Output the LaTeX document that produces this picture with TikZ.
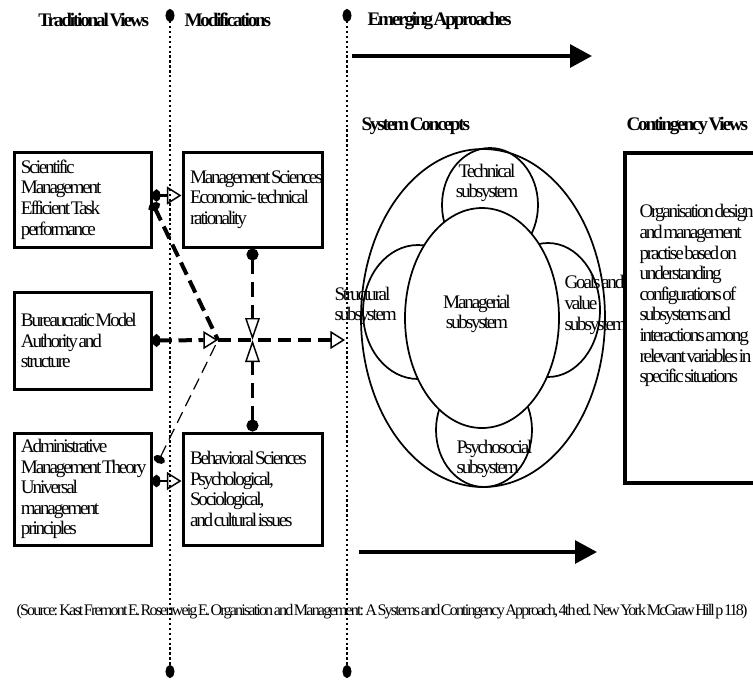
\documentclass[tikz,border=0pt]{standalone}
\usepackage{fontspec}
\setmainfont{Liberation Serif}[LetterSpace=-11.5,WordSpace={0.25,0,0}]
\usetikzlibrary{arrows.meta}
\hyphenpenalty=10000
\exhyphenpenalty=10000

\newcommand\txtfont{\fontsize{14.4}{15.45}\selectfont}
\newcommand\hdfont{\fontsize{14.4}{15.45}\selectfont\bfseries}
\newcommand\srcfont{\fontsize{12.1}{13}\selectfont}

\tikzset{every picture/.style={line width=0.75pt}}
\tikzset{
  dot/.tip={Ellipse[length=6pt,width=9pt]},
  vdot/.tip={Ellipse[length=9pt,width=9pt]},
  otri/.tip={Triangle[open,length=11pt,width=13.5pt,line width=1.1pt]},
  vtri/.tip={Triangle[open,length=16.5pt,width=11pt,line width=1.1pt]},
  box/.style={draw,line width=2.25pt,inner xsep=5.25pt,inner ysep=0pt,align=left,font=\txtfont,
    execute at begin node={\spaceskip=0pt\xspaceskip=0pt}},
  lbox/.style={box,minimum width=102.75pt,text width=92.25pt},
  mbox/.style={box,minimum width=104.25pt,text width=93.75pt},
  hd/.style={anchor=west,inner sep=0.75pt,font=\hdfont},
  lbl/.style={inner sep=0.75pt,font=\txtfont},
  sepline/.style={line width=1.6pt,dash pattern=on 1.7pt off 2pt,
    {Ellipse[length=9.75pt,width=6.75pt]}-{Ellipse[length=9.75pt,width=6.75pt]}},
  thickdash/.style={line width=3pt,dash pattern=on 10pt off 5pt},
  vdash/.style={line width=1.8pt,dash pattern=on 11pt off 6pt},
  thindash/.style={line width=0.9pt,dash pattern=on 9pt off 5pt},
  flow/.style={line width=3pt,-{Triangle[length=16.5pt,width=17pt]}},
  ring/.style={line width=1.3pt}
}

\begin{document}
\begin{tikzpicture}[x=0.75pt,y=0.75pt,yscale=-1,xscale=1]
\useasboundingbox (0,0) rectangle (753,679);

% column separators
\draw[sepline] (170,9) -- (170,678);
\draw[sepline] (347,9) -- (347,678);

% headings
\node[hd] (trad) at (37,20) {Traditional Views};
\node[hd] (modif) at (183,20) {Modifications};
\node[hd] (emerg) at (366,21) {Emerging Approaches};
\node[hd] (syscon) at (360,126) {System Concepts};
\node[hd] (contv) at (625,126) {Contingency Views};

% emerging approaches arrows
\coordinate (topL) at (352,56);
\coordinate (topR) at (592,56);
\coordinate (botL) at (359,552);
\coordinate (botR) at (597,552);
\draw[flow] (topL) -- (topR);
\draw[flow] (botL) -- (botR);

% traditional views
\node[lbox,minimum height=71.25pt] (sci) at (82.5,199.5) {Scientific\\Management\\\mbox{Efficient Task}\\performance};
\node[lbox,minimum height=72.75pt] (bur) at (82.5,340.5) {\mbox{Bureaucratic Model}\\\mbox{Authority and}\\structure};
\node[lbox,minimum height=84pt] (adm) at (82.5,489) {Administrative\\\mbox{Management Theory}\\Universal\\management\\principles};

% modifications
\node[mbox,minimum height=71.25pt] (mgt) at (252.5,199.5) {\mbox{Management Sciences}\\\mbox{Economic- technical}\\rationality};
\node[mbox,minimum height=84pt] (beh) at (252.5,489) {\mbox{Behavioral Sciences}\\Psychological,\\Sociological,\\\mbox{and cultural issues}};

% junctions
\coordinate (hub) at (218,340);
\coordinate (vmid) at (mgt.south |- hub);
\coordinate (sysin) at (345,340);

% connectors (yshift is flipped by yscale=-1)
\draw[line width=2.2pt,{dot}-{otri}] ([yshift=-3pt]sci.east) -- ([yshift=-3pt]mgt.west);
\draw[line width=2.2pt,{dot}-{otri}] ([yshift=-6pt]adm.east) -- ([yshift=-6pt]beh.west);
\draw[thickdash,{dot}-] ([yshift=2.6pt]sci.east) -- (hub);
\draw[thindash,{dot}-] ([xshift=3.75pt,yshift=-19.5pt]adm.east) -- (hub);
\draw[thickdash,{dot}-{otri}] (bur.east) -- (hub);
\draw[thickdash,-{otri}] (hub) -- (sysin);
\draw[vdash,{vdot}-{vtri}] (mgt.south) -- (vmid);
\draw[vdash,{vdot}-{vtri}] (beh.north) -- (vmid);

% system concepts
\draw[ring] (483,318) ellipse [x radius=122,y radius=169];
\draw[ring] (490,205) ellipse [x radius=48,y radius=57];
\draw[ring] (484,430) ellipse [x radius=48,y radius=57];
\draw[ring] (418,312) ellipse [x radius=55,y radius=67];
\draw[ring] (548,310) ellipse [x radius=52,y radius=67];
\draw[ring,fill=white] (482,318) ellipse [x radius=77,y radius=110];

\node[lbl,align=center] (tech) at (487,183) {Technical\\subsystem};
\node[lbl,align=center] (mgrl) at (477,314) {Managerial\\subsystem};
\node[lbl,align=left,anchor=west] (struc) at (333,306) {Structural\\subsystem};
\node[lbl,align=left,anchor=west] (goals) at (563,305) {Goals and\\value\\subsystem};
\node[lbl,align=left,anchor=west] (psych) at (455,459) {Psychosocial\\subsystem};

% contingency views
\draw[line width=3pt] (625,153) rectangle (775,483);
\node[lbl,align=left,anchor=north west] (cont) at (638,203) {Organisation design\\and management\\practise based on\\understanding\\configurations of\\subsystems and\\interactions among\\relevant variables in\\specific situations};

% source
\node[anchor=west,inner sep=0.75pt,font=\srcfont] (src) at (15,612) {(Source: Kast Fremont E. Rosenweig E. Organisation and Management: A Systems and Contingency Approach, 4th ed. New York McGraw Hill p 118)};

\end{tikzpicture}
\end{document}
